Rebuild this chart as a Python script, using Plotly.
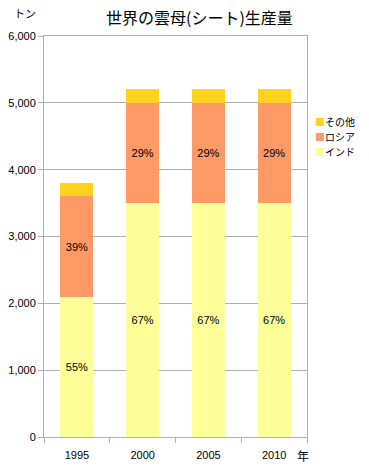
import plotly.graph_objects as go

years = ["1995", "2000", "2005", "2010"]
india = [2100, 3500, 3500, 3500]
russia = [1500, 1500, 1500, 1500]
others = [200, 200, 200, 200]

names = ["インド", "ロシア", "その他"]
colors = ["#FFFF99", "#FF9966", "#FFD21F"]

totals = [a + b + c for a, b, c in zip(india, russia, others)]
india_txt = [f"{round(v / t * 100)}%" for v, t in zip(india, totals)]
russia_txt = [f"{round(v / t * 100)}%" for v, t in zip(russia, totals)]

FONT = "Liberation Sans, Arial, Noto Sans CJK JP, sans-serif"
JP = "Noto Sans CJK JP, sans-serif"

fig = go.Figure()
fig.add_trace(go.Bar(x=years, y=india, name=names[0], marker=dict(color=colors[0], line=dict(width=0)),
                     text=india_txt, textposition="inside", insidetextanchor="middle", textangle=0,
                     textfont=dict(color="black", size=11, family=FONT)))
fig.add_trace(go.Bar(x=years, y=russia, name=names[1], marker=dict(color=colors[1], line=dict(width=0)),
                     text=russia_txt, textposition="inside", insidetextanchor="middle", textangle=0,
                     textfont=dict(color="black", size=11, family=FONT)))
fig.add_trace(go.Bar(x=years, y=others, name=names[2], marker=dict(color=colors[2], line=dict(width=0)),
                     hoverinfo="y"))

fig.update_layout(
    width=369, height=472,
    margin=dict(l=44, r=62, t=36, b=35, autoexpand=False),
    barmode="stack", bargap=0.5,
    paper_bgcolor="white", plot_bgcolor="white",
    font=dict(family=FONT, size=11, color="black"),
    showlegend=False,
    uniformtext=dict(minsize=8, mode="show"),
)
fig.update_xaxes(showline=True, linecolor="#B0B0B0", linewidth=1, mirror=True,
                 ticks="outside", tickson="boundaries", ticklen=5, tickcolor="#B0B0B0",
                 ticklabelstandoff=8, showgrid=False, tickfont=dict(size=11))
fig.update_yaxes(range=[0, 6000], dtick=1000, tickformat=",d", showline=True, linecolor="#B0B0B0",
                 linewidth=1, mirror=True, ticks="outside", ticklen=5, tickcolor="#B0B0B0",
                 showgrid=True, gridcolor="#B0B0B0", gridwidth=1, zeroline=False,
                 tickfont=dict(size=11))

# legend (top entry first, as in the reference)
legend_y = [0.788, 0.7506, 0.7132]
for i, idx in enumerate([2, 1, 0]):
    fig.add_annotation(
        text=f'<span style="color:{colors[idx]}">■</span>{names[idx]}',
        xref="paper", yref="paper", x=1.0, xshift=7, y=legend_y[i],
        showarrow=False, xanchor="left", yanchor="middle", borderpad=0,
        font=dict(family=JP, size=10, color="black"))

fig.add_annotation(text="世界の雲母(シート)生産量", xref="paper", yref="paper", x=0.59, y=1.0,
                   yshift=19, showarrow=False, xanchor="center", yanchor="middle",
                   font=dict(family=JP, size=16, color="black"))
fig.add_annotation(text="トン", xref="paper", yref="paper", x=0, xshift=-32, y=1.0, yshift=23,
                   showarrow=False, xanchor="left", yanchor="middle",
                   font=dict(family=JP, size=11, color="black"))
fig.add_annotation(text="年", xref="paper", yref="paper", x=1.0, xshift=-4, y=0, yshift=-18,
                   showarrow=False, xanchor="center", yanchor="middle",
                   font=dict(family=JP, size=12, color="black"))

fig.write_html("out.html")
